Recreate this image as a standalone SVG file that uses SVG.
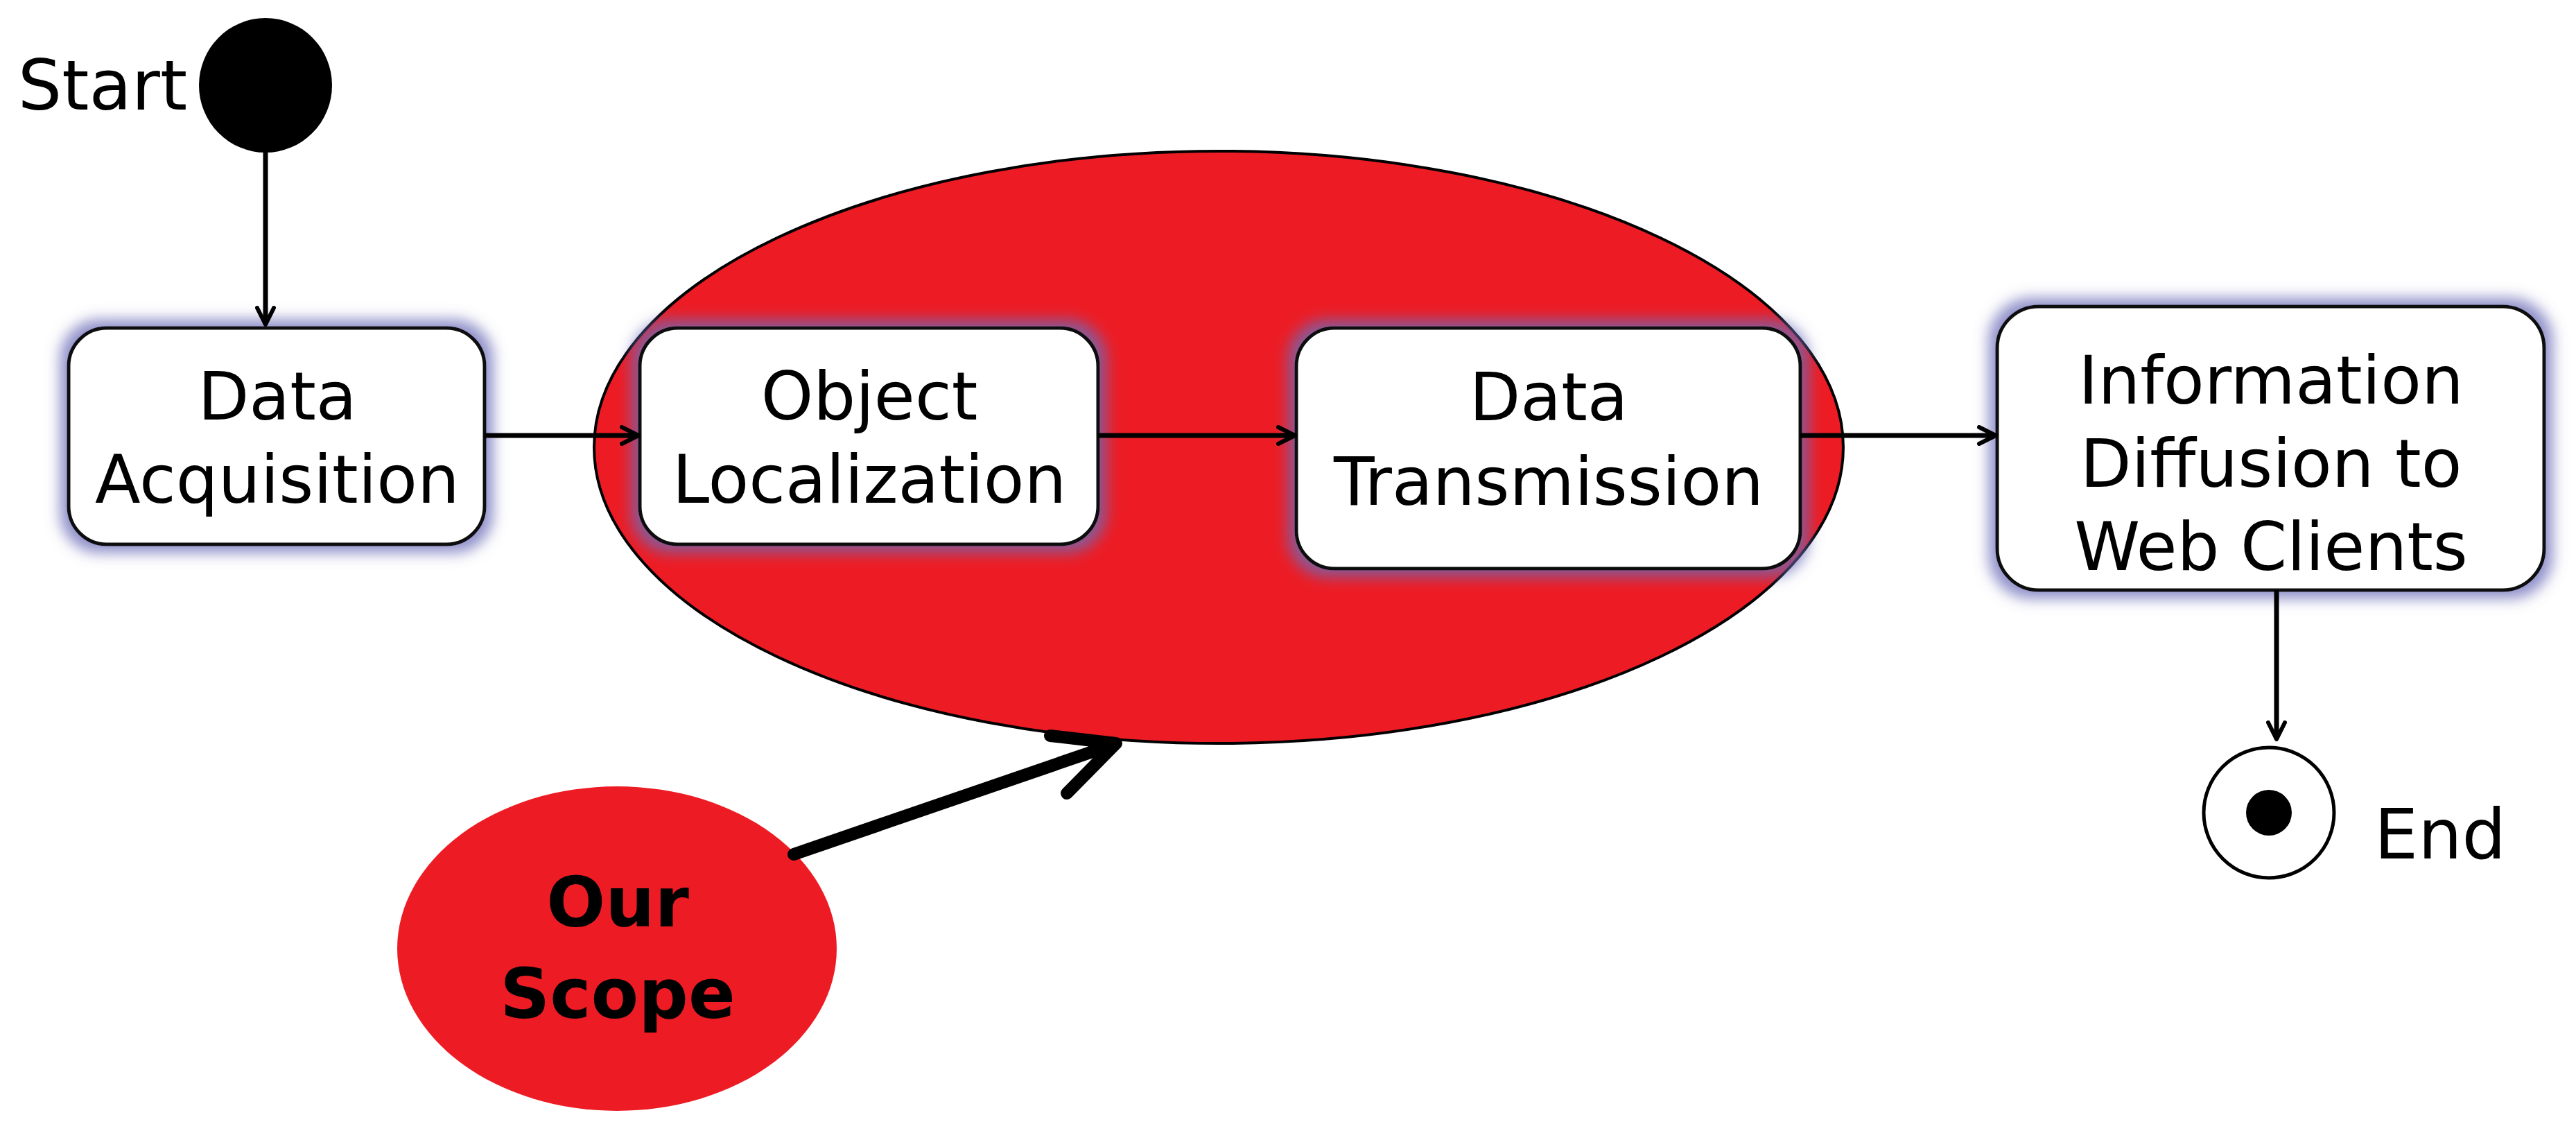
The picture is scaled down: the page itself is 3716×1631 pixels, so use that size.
<svg xmlns="http://www.w3.org/2000/svg" width="3716" height="1631" viewBox="0 0 3716 1631">
<defs>
<filter id="glow" x="-20%" y="-20%" width="140%" height="140%">
<feMorphology in="SourceAlpha" operator="dilate" radius="10" result="d"/>
<feGaussianBlur in="d" stdDeviation="10" result="b"/>
<feFlood flood-color="#6b6bb8" flood-opacity="0.75"/>
<feComposite in2="b" operator="in" result="g"/>
<feMerge><feMergeNode in="g"/><feMergeNode in="SourceGraphic"/></feMerge>
</filter>
<marker id="ah" viewBox="0 0 30 30" refX="27" refY="15" markerWidth="30" markerHeight="30" markerUnits="userSpaceOnUse" orient="auto">
<path d="M3,3 L27,15 L3,27" fill="none" stroke="#000" stroke-width="6" stroke-linecap="round" stroke-linejoin="round"/>
</marker>
</defs>
<style>
.box{fill:#fff;stroke:#111;stroke-width:5}
.t{font-family:"DejaVu Sans",Verdana,sans-serif;font-size:96px;fill:#000;text-anchor:middle}
.c{stroke:#000;stroke-width:7;fill:none}
</style>
<rect width="3716" height="1631" fill="#fff"/>
<g id="scope-area"><ellipse cx="1758" cy="645" rx="901" ry="427" fill="#ed1c24" stroke="#000" stroke-width="4"/></g>
<g id="start"><ellipse cx="383" cy="123" rx="96" ry="97" fill="#000"/><text class="t" x="148" y="158" style="font-size:100px">Start</text></g>
<g id="data-acquisition" filter="url(#glow)"><rect class="box" x="99" y="473" width="600" height="312" rx="55"/></g>
<text class="t" x="400" y="605">Data</text><text class="t" x="400" y="725">Acquisition</text>
<g id="object-localization" filter="url(#glow)"><rect class="box" x="923" y="473" width="661" height="312" rx="55"/></g>
<text class="t" x="1254" y="605">Object</text><text class="t" x="1254" y="725">Localization</text>
<g id="data-transmission" filter="url(#glow)"><rect class="box" x="1870" y="473" width="727" height="347" rx="55"/></g>
<text class="t" x="2234" y="606">Data</text><text class="t" x="2234" y="728">Transmission</text>
<g id="info-diffusion" filter="url(#glow)"><rect class="box" x="2881" y="442" width="789" height="409" rx="60"/></g>
<text class="t" x="3276" y="582">Information</text><text class="t" x="3276" y="702">Diffusion to</text><text class="t" x="3276" y="822">Web Clients</text>
<g id="end"><circle cx="3273" cy="1172" r="94" fill="#fff" stroke="#000" stroke-width="5"/><circle cx="3273" cy="1172" r="33" fill="#000"/><text class="t" x="3425" y="1238" style="text-anchor:start;font-size:100px">End</text></g>
<g id="our-scope"><ellipse cx="890" cy="1368" rx="317" ry="234" fill="#ed1c24"/><text class="t" x="891" y="1336" style="font-weight:bold;font-size:100px">Our</text><text class="t" x="891" y="1468" style="font-weight:bold;font-size:100px">Scope</text></g>
<g id="connectors">
<line class="c" x1="383" y1="220" x2="383" y2="468" marker-end="url(#ah)"/>
<line class="c" x1="699" y1="628" x2="921" y2="628" marker-end="url(#ah)"/>
<line class="c" x1="1584" y1="628" x2="1868" y2="628" marker-end="url(#ah)"/>
<line class="c" x1="2597" y1="628" x2="2879" y2="628" marker-end="url(#ah)"/>
<line class="c" x1="3284" y1="851" x2="3284" y2="1066" marker-end="url(#ah)"/>
<path d="M1145,1232 L1608,1073 M1515,1061 L1610,1072 L1539,1144" fill="none" stroke="#000" stroke-width="18" stroke-linecap="round" stroke-linejoin="round"/>
</g>
</svg>
